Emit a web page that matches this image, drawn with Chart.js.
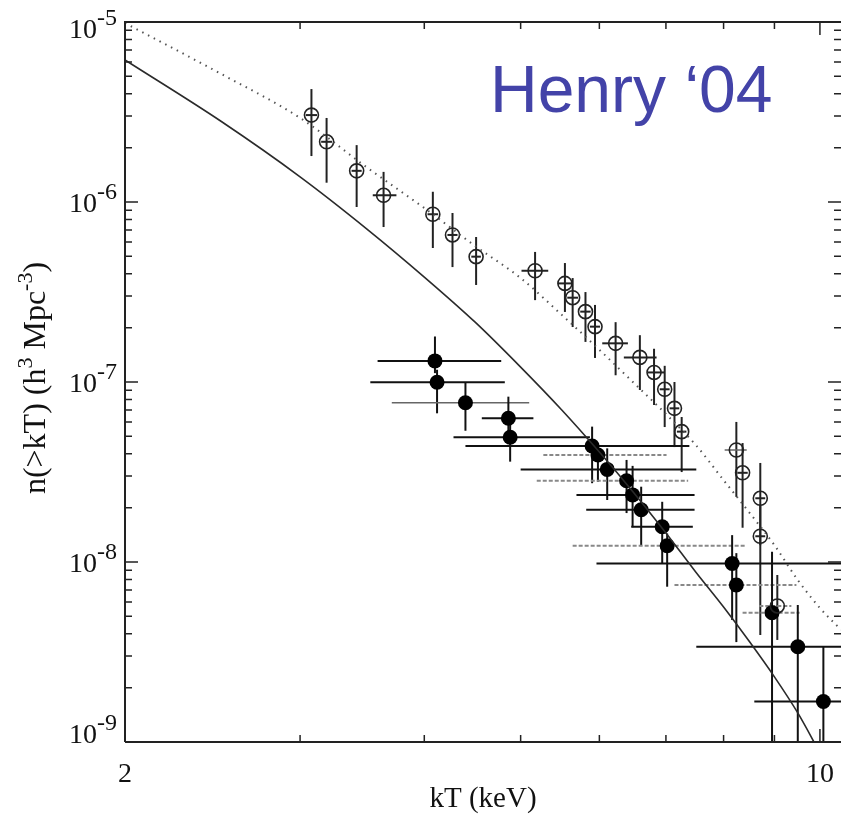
<!DOCTYPE html>
<html>
<head>
<meta charset="utf-8">
<title>n(>kT) – Henry '04</title>
<script src="https://cdn.jsdelivr.net/npm/chart.js@4/dist/chart.umd.min.js"></script>
<style>
    html, body { margin: 0; padding: 0; background: #fff; overflow: hidden; }
    #wrap { position: relative; width: 841px; height: 818px; }
    canvas { display: block; }
</style>
</head>
<body>
<div id="wrap"><canvas id="chart"></canvas></div>
<script>
// Model curves
const curveKT = [2, 2.5, 3, 3.5, 4, 4.5, 5, 5.5, 6, 6.5, 7, 7.5, 8, 8.5, 9, 9.5, 10];
const modelSolid = [6.15e-6, 2.80e-6, 1.38e-6, 7.10e-7, 3.83e-7, 2.15e-7, 1.21e-7, 6.99e-8, 4.08e-8,
    2.42e-8, 1.45e-8, 8.80e-9, 5.62e-9, 3.59e-9, 2.30e-9, 1.45e-9, 8.7e-10];
const curveKTDot = [2, 2.5, 3, 3.5, 4, 4.5, 5, 5.5, 6, 6.5, 7, 7.5, 8, 8.5, 9, 9.5, 10, 10.5];
const modelDotted = [9.87e-6, 5.14e-6, 2.93e-6, 1.56e-6, 9.26e-7, 5.70e-7, 3.78e-7, 2.36e-7, 1.51e-7,
    9.87e-8, 6.64e-8, 4.47e-8, 2.85e-8, 1.87e-8, 1.24e-8, 7.94e-9, 5.55e-9, 4.2e-9];

// Open circles
const openKT   = [3.08, 3.19, 3.42, 3.64, 4.08, 4.27, 4.51, 5.17, 5.54, 5.64, 5.81, 5.94, 6.23, 6.59, 6.81, 6.98, 7.14, 7.26, 8.24, 8.36, 8.71, 8.71, 9.06];
const openKTLo = [3.04, 3.15, 3.38, 3.55, 4.03, 4.22, 4.46, 5.01, 5.45, 5.57, 5.74, 5.87, 6.04, 6.35, 6.71, 6.90, 7.06, 7.18, 8.02, 8.26, 8.61, 8.61, 8.69];
const openKTHi = [3.12, 3.23, 3.46, 3.75, 4.13, 4.32, 4.56, 5.33, 5.64, 5.71, 5.88, 6.01, 6.41, 6.85, 6.98, 7.06, 7.22, 7.34, 8.44, 8.46, 8.81, 8.81, 9.36];
const openN    = [3.04e-6, 2.16e-6, 1.49e-6, 1.09e-6, 8.55e-7, 6.56e-7, 4.97e-7, 4.15e-7, 3.53e-7, 2.94e-7, 2.46e-7, 2.03e-7,
    1.64e-7, 1.37e-7, 1.13e-7, 9.11e-8, 7.14e-8, 5.30e-8, 4.19e-8, 3.13e-8, 2.26e-8, 1.39e-8, 5.70e-9];
const openNHi  = [4.24e-6, 2.93e-6, 2.07e-6, 1.47e-6, 1.14e-6, 8.69e-7, 6.39e-7, 5.28e-7, 4.58e-7, 3.78e-7, 3.16e-7, 2.68e-7,
    2.15e-7, 1.82e-7, 1.53e-7, 1.23e-7, 1.00e-7, 6.39e-8, 6.00e-8, 4.58e-8, 3.55e-8, 2.07e-8, 8.47e-9];
const openNLo  = [1.80e-6, 1.28e-6, 9.38e-7, 7.26e-7, 5.55e-7, 4.35e-7, 3.46e-7, 2.85e-7, 2.45e-7, 2.02e-7, 1.67e-7, 1.36e-7,
    1.09e-7, 9.03e-8, 7.45e-8, 5.62e-8, 4.35e-8, 3.16e-8, 2.30e-8, 1.55e-8, 1.24e-8, 3.93e-9, 3.69e-9];
// 0 = solid, 1 = dashed grey, 2 = thin grey
const openBarStyle = [0, 0, 0, 0, 0, 0, 0, 0, 0, 0, 0, 0, 0, 0, 0, 0, 0, 0, 2, 0, 0, 0, 1];

// Filled circles
const fillKT   = [4.10, 4.12, 4.40, 4.86, 4.88, 5.90, 5.98, 6.11, 6.39, 6.48, 6.61, 6.94, 7.02, 8.16, 8.24, 8.95, 9.50, 10.08];
const fillKTLo = [3.59, 3.53, 3.71, 4.57, 4.28, 4.40, 5.27, 5.00, 5.19, 5.69, 5.82, 6.46, 5.64, 5.96, 7.14, 8.36, 7.51, 8.59];
const fillKTHi = [4.78, 4.82, 5.10, 5.15, 5.87, 7.39, 7.01, 7.51, 7.37, 7.48, 7.48, 7.45, 8.43, 10.8, 9.47, 9.54, 10.8, 10.8];
const fillN    = [1.31e-7, 9.96e-8, 7.67e-8, 6.29e-8, 4.93e-8, 4.41e-8, 3.93e-8, 3.27e-8, 2.83e-8, 2.36e-8, 1.95e-8, 1.57e-8,
    1.23e-8, 9.81e-9, 7.45e-9, 5.23e-9, 3.38e-9, 1.68e-9];
const fillNHi  = [1.79e-7, 1.17e-7, 1.00e-7, 8.29e-8, 6.15e-8, 5.65e-8, 4.37e-8, 4.28e-8, 3.69e-8, 3.42e-8, 2.62e-8, 2.16e-8,
    1.44e-8, 1.41e-8, 1.12e-8, 1.14e-8, 5.77e-9, 3.38e-9];
const fillNLo  = [1.12e-7, 6.70e-8, 5.36e-8, 5.28e-8, 3.61e-8, 2.74e-8, 2.79e-8, 2.21e-8, 1.87e-8, 1.56e-8, 1.24e-8, 9.83e-9,
    7.29e-9, 4.76e-9, 3.59e-9, 5e-10, 5e-10, 5e-10];
const fillBarStyle = [0, 0, 2, 0, 0, 0, 1, 0, 1, 0, 0, 0, 1, 0, 1, 1, 0, 0];

// Axis ticks
const xTickValues = [2, 3, 4, 5, 6, 7, 8, 9, 10];
const xTickLabels = ['2', '', '', '', '', '', '', '', '10'];
const yDecadeExps = [-5, -6, -7, -8, -9];

const SERIF = '"Liberation Serif", "Times New Roman", serif';

function points(kt, n, ktLo, ktHi, nLo, nHi, style) {
    return kt.map((k, i) => ({
        x: k, y: n[i], xLo: ktLo[i], xHi: ktHi[i], yLo: nLo[i], yHi: nHi[i], style: style[i]
    }));
}

// Error bars, drawn under the markers
const errorBarPlugin = {
    id: 'errorBars',
    beforeDatasetsDraw(chart) {
        const { ctx, chartArea: a, scales: { x, y } } = chart;
        ctx.save();
        ctx.beginPath();
        ctx.rect(a.left, a.top, a.right - a.left, a.bottom - a.top);
        ctx.clip();
        chart.data.datasets.forEach(ds => {
            if (!ds.errorBars) return;
            ds.data.forEach(p => {
                const px = x.getPixelForValue(p.x);
                const py = y.getPixelForValue(p.y);
                // vertical
                ctx.setLineDash([]);
                ctx.strokeStyle = ds.barColor;
                ctx.lineWidth = 2;
                ctx.beginPath();
                ctx.moveTo(px, y.getPixelForValue(p.yHi));
                ctx.lineTo(px, y.getPixelForValue(p.yLo));
                ctx.stroke();
                // horizontal
                if (p.style === 1) {
                    ctx.strokeStyle = '#888';
                    ctx.setLineDash([4, 2]);
                    ctx.lineWidth = 2;
                } else if (p.style === 2) {
                    ctx.strokeStyle = '#666';
                    ctx.lineWidth = 1.5;
                } else {
                    ctx.strokeStyle = ds.barColor;
                    ctx.lineWidth = 2;
                }
                ctx.beginPath();
                ctx.moveTo(x.getPixelForValue(p.xLo), py);
                ctx.lineTo(x.getPixelForValue(p.xHi), py);
                ctx.stroke();
            });
        });
        ctx.restore();
    }
};

// Frame, inward ticks and all axis text
const framePlugin = {
    id: 'frame',
    afterDraw(chart) {
        const { ctx, chartArea: a, scales: { x, y } } = chart;
        ctx.save();
        ctx.strokeStyle = '#222';
        ctx.lineWidth = 2;
        ctx.beginPath();
        ctx.moveTo(a.left, a.bottom);
        ctx.lineTo(a.left, a.top);
        ctx.lineTo(a.right + 2, a.top);
        ctx.moveTo(a.left, a.bottom);
        ctx.lineTo(a.right + 2, a.bottom);
        ctx.stroke();

        ctx.lineWidth = 1.5;
        ctx.beginPath();
        xTickValues.forEach(v => {
            const px = x.getPixelForValue(v);
            const len = v === 10 ? 13 : 7;
            ctx.moveTo(px, a.bottom);
            ctx.lineTo(px, a.bottom - len);
            ctx.moveTo(px, a.top);
            ctx.lineTo(px, a.top + len);
        });
        for (let e = -9; e <= -5; e++) {
            for (let m = 1; m <= 9; m++) {
                if (e === -5 && m > 1) break;
                const py = y.getPixelForValue(m * Math.pow(10, e));
                const len = m === 1 ? 13 : 7;
                ctx.moveTo(a.left, py);
                ctx.lineTo(a.left + len, py);
                ctx.moveTo(a.right, py);
                ctx.lineTo(a.right - len, py);
            }
        }
        ctx.stroke();

        // y tick labels: 10^e
        ctx.fillStyle = '#111';
        ctx.textBaseline = 'alphabetic';
        ctx.textAlign = 'left';
        yDecadeExps.forEach(e => {
            const py = y.getPixelForValue(Math.pow(10, e));
            const base = Math.min(Math.max(py + 10, 38), 743);
            ctx.font = '28px ' + SERIF;
            const wBase = ctx.measureText('10').width;
            ctx.font = '24px ' + SERIF;
            const sup = '-' + String(-e);
            const wSup = ctx.measureText(sup).width;
            const right = 117;
            ctx.fillText(sup, right - wSup, base - 13);
            ctx.font = '28px ' + SERIF;
            ctx.fillText('10', right - wSup - wBase, base);
        });

        // x tick labels
        ctx.font = '28px ' + SERIF;
        ctx.textAlign = 'center';
        xTickValues.forEach((v, i) => {
            if (!xTickLabels[i]) return;
            ctx.fillText(xTickLabels[i], x.getPixelForValue(v), 782);
        });

        // x title
        ctx.font = '29px ' + SERIF;
        ctx.fillText('kT (keV)', (a.left + a.right) / 2, 807);

        // y title with superscripts
        const parts = [
            ['n(>kT) (h', 32, 0],
            ['3', 22, -13],
            [' Mpc', 32, 0],
            ['-3', 22, -13],
            [')', 32, 0]
        ];
        let total = 0;
        parts.forEach(p => {
            ctx.font = p[1] + 'px ' + SERIF;
            p.push(ctx.measureText(p[0]).width);
            total += p[3];
        });
        ctx.translate(45, 378);
        ctx.rotate(-Math.PI / 2);
        ctx.textAlign = 'left';
        let cx = -total / 2;
        parts.forEach(p => {
            ctx.font = p[1] + 'px ' + SERIF;
            ctx.fillText(p[0], cx, p[2]);
            cx += p[3];
        });
        ctx.restore();

        // annotation
        ctx.save();
        ctx.font = '66px "Liberation Sans", Arial, sans-serif';
        ctx.fillStyle = '#4343a8';
        ctx.textAlign = 'left';
        ctx.textBaseline = 'alphabetic';
        ctx.fillText('Henry \u201804', 490, 112);
        ctx.restore();
    }
};

const ctx = document.getElementById('chart').getContext('2d');
new Chart(ctx, {
    type: 'scatter',
    data: {
        datasets: [
            {
                label: 'model (solid)',
                data: curveKT.map((k, i) => ({ x: k, y: modelSolid[i] })),
                showLine: true,
                borderColor: '#2a2a2a',
                borderWidth: 1.6,
                pointRadius: 0,
                cubicInterpolationMode: 'monotone'
            },
            {
                label: 'model (dotted)',
                data: curveKTDot.map((k, i) => ({ x: k, y: modelDotted[i] })),
                showLine: true,
                borderColor: '#555',
                borderWidth: 2,
                borderDash: [1.5, 5],
                pointRadius: 0,
                cubicInterpolationMode: 'monotone'
            },
            {
                label: 'open',
                data: points(openKT, openN, openKTLo, openKTHi, openNLo, openNHi, openBarStyle),
                errorBars: true,
                barColor: '#222',
                pointStyle: 'circle',
                pointRadius: 7,
                pointBorderWidth: 1.6,
                pointBorderColor: '#222',
                pointBackgroundColor: 'rgba(255,255,255,0)'
            },
            {
                label: 'filled',
                data: points(fillKT, fillN, fillKTLo, fillKTHi, fillNLo, fillNHi, fillBarStyle),
                errorBars: true,
                barColor: '#111',
                pointStyle: 'circle',
                pointRadius: 7.5,
                pointBorderWidth: 0,
                pointBackgroundColor: '#000'
            }
        ]
    },
    options: {
        responsive: true,
        maintainAspectRatio: false,
        animation: false,
        layout: { autoPadding: false, padding: { top: 22, right: 0, left: 0, bottom: 0 } },
        plugins: { legend: { display: false }, tooltip: { enabled: false } },
        scales: {
            x: {
                type: 'logarithmic',
                min: 2,
                max: 10.5,
                ticks: { display: false },
                grid: { display: false },
                border: { display: false },
                afterFit(scale) { scale.height = 76; }
            },
            y: {
                type: 'logarithmic',
                min: 1e-9,
                max: 1e-5,
                ticks: { display: false },
                grid: { display: false },
                border: { display: false },
                afterFit(scale) { scale.width = 125; }
            }
        }
    },
    plugins: [errorBarPlugin, framePlugin]
});
</script>
</body>
</html>
